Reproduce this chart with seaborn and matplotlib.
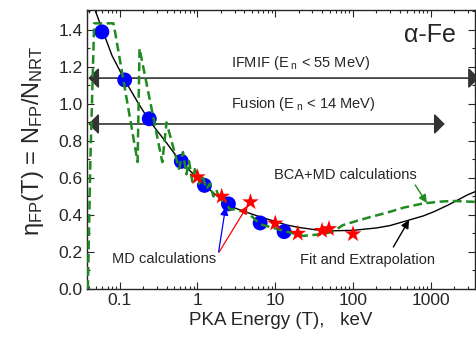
import numpy as np
import pandas as pd
import matplotlib
matplotlib.use("Agg")
import matplotlib.pyplot as plt
from matplotlib.ticker import FixedLocator, FixedFormatter, LogLocator, NullFormatter, MultipleLocator
import seaborn as sns

# ---- data ----
md_blue_x = [0.059, 0.116, 0.24, 0.62, 1.23, 2.5, 6.4, 13]
md_blue_y = [1.39, 1.13, 0.92, 0.69, 0.56, 0.46, 0.357, 0.31]

md_red_x = [1.0, 2.05, 4.8, 10, 19.5, 40, 49, 100]
md_red_y = [0.605, 0.50, 0.47, 0.355, 0.30, 0.315, 0.325, 0.297]

fit_x = [0.049, 0.06, 0.08, 0.116, 0.17, 0.24, 0.4, 0.6, 1.0, 1.2, 2.0, 2.5, 3.1,
         5, 6.4, 10, 14, 20, 33, 60, 100, 200, 300, 500, 800, 1100, 1600, 2200,
         3000, 4200]
fit_y = [1.50, 1.40, 1.26, 1.13, 1.01, 0.91, 0.79, 0.69, 0.60, 0.565, 0.485, 0.46, 0.436,
         0.405, 0.39, 0.365, 0.346, 0.333, 0.32, 0.315, 0.317, 0.33, 0.343, 0.37, 0.395,
         0.418, 0.45, 0.48, 0.51, 0.535]

bca_x = [0.039, 0.042, 0.047, 0.083, 0.088, 0.17, 0.18, 0.353, 0.40, 0.58, 0.65, 0.72,
         0.78, 0.86, 0.94, 1.05, 1.15, 1.3, 1.45, 1.6, 1.75, 2.0, 2.2, 2.6, 3.1, 4.5,
         6.4, 14, 23, 41, 55, 74, 100, 170, 270, 450, 790, 1300, 1900, 4200]
bca_y = [0.0, 0.7, 1.436, 1.436, 1.38, 0.686, 1.30, 0.686, 0.90, 0.65, 0.74, 0.62,
         0.69, 0.58, 0.66, 0.57, 0.62, 0.54, 0.57, 0.50, 0.535, 0.47, 0.49, 0.43, 0.43, 0.41,
         0.35, 0.31, 0.287, 0.297, 0.31, 0.345, 0.362, 0.39, 0.412, 0.44, 0.462, 0.472,
         0.476, 0.47]

xtick_vals = [0.1, 1, 10, 100, 1000]
xtick_labels = ["0.1", "1", "10", "100", "1000"]
ytick_vals = [0.0, 0.2, 0.4, 0.6, 0.8, 1.0, 1.2, 1.4]
ytick_labels = ["0.0", "0.2", "0.4", "0.6", "0.8", "1.0", "1.2", "1.4"]

# ---- style ----
sns.set_style("ticks")
plt.rcParams["font.family"] = ["Liberation Sans", "DejaVu Sans"]
plt.rcParams["mathtext.fontset"] = "custom"
plt.rcParams["mathtext.rm"] = "Liberation Sans"
plt.rcParams["mathtext.it"] = "Liberation Sans"
plt.rcParams["mathtext.bf"] = "Liberation Sans:bold"

fig = plt.figure(figsize=(4.76, 3.37), dpi=100)
ax = fig.add_axes([87 / 476, 48 / 337, (475 - 87) / 476, (289 - 10) / 337])

bca = pd.DataFrame({"T": bca_x, "eta": bca_y})
fit = pd.DataFrame({"T": fit_x, "eta": fit_y})
blue = pd.DataFrame({"T": md_blue_x, "eta": md_blue_y})
red = pd.DataFrame({"T": md_red_x, "eta": md_red_y})

sns.lineplot(data=fit, x="T", y="eta", sort=False, estimator=None, color="black",
             linewidth=1.0, ax=ax, zorder=3)
sns.scatterplot(data=blue, x="T", y="eta", color="#0000ff", s=115, marker="o",
                edgecolor="none", ax=ax, zorder=4)
sns.lineplot(data=bca, x="T", y="eta", sort=False, estimator=None, color="#1f8a1f",
             linewidth=1.8, linestyle=(0, (3.5, 1.8)), ax=ax, zorder=5)
sns.scatterplot(data=red, x="T", y="eta", color="#ff0000", s=160, marker="*",
                edgecolor="none", ax=ax, zorder=6)

ax.set_xscale("log")
ax.set_xlim(0.038, 3700)
ax.set_ylim(0.0, 1.508)

ax.xaxis.set_major_locator(FixedLocator(xtick_vals))
ax.xaxis.set_major_formatter(FixedFormatter(xtick_labels))
ax.xaxis.set_minor_locator(LogLocator(base=10, subs=np.arange(2, 10)))
ax.xaxis.set_minor_formatter(NullFormatter())
ax.yaxis.set_major_locator(FixedLocator(ytick_vals))
ax.yaxis.set_major_formatter(FixedFormatter(ytick_labels))
ax.yaxis.set_minor_locator(MultipleLocator(0.1))

ax.tick_params(which="both", direction="in", top=True, right=True, labelsize=12.5,
               width=0.8, pad=3)
ax.tick_params(which="major", length=5)
ax.tick_params(which="minor", length=2.5)
for s in ax.spines.values():
    s.set_linewidth(1.0)

ax.set_xlabel("PKA Energy (T),   keV", fontsize=13.5, labelpad=3)
ax.set_ylabel(r"$\eta_{\rm FP}$(T) = N$_{\rm FP}$/N$_{\rm NRT}$", fontsize=17)
ax.yaxis.set_label_coords(-0.105, 0.53)

# ---- annotations ----
arr_kw = dict(arrowstyle="<|-|>,head_length=0.45,head_width=0.45", color="#333333",
              lw=1.2, mutation_scale=14, shrinkA=0, shrinkB=0)
ax.annotate("", xy=(4150, 1.14), xytext=(0.0395, 1.14), arrowprops=arr_kw,
            annotation_clip=False)
ax.annotate("", xy=(1510, 0.892), xytext=(0.0395, 0.892), arrowprops=arr_kw)
ax.text(21, 1.22, r"IFMIF (E$_{\ \rm n}$ < 55 MeV)", fontsize=10.5, ha="center", va="center")
ax.text(23, 1.0, r"Fusion (E$_{\ \rm n}$ < 14 MeV)", fontsize=10.5, ha="center", va="center")
ax.text(980, 1.373, "α-Fe", fontsize=18, ha="center", va="center")

ax.text(80, 0.616, "BCA+MD calculations", fontsize=10.5, ha="center", va="center")
ax.annotate("", xy=(890, 0.465), xytext=(630, 0.562),
            arrowprops=dict(arrowstyle="-|>,head_length=0.4,head_width=0.2",
                            color="#1f8a1f", lw=1.0, mutation_scale=12, shrinkA=0, shrinkB=0))
ax.text(152, 0.157, "Fit and Extrapolation", fontsize=10.5, ha="center", va="center")
ax.annotate("", xy=(525, 0.373), xytext=(330, 0.227),
            arrowprops=dict(arrowstyle="-|>,head_length=0.4,head_width=0.2",
                            color="black", lw=1.0, mutation_scale=12, shrinkA=0, shrinkB=0))
ax.text(0.37, 0.162, "MD calculations", fontsize=10.5, ha="center", va="center")
ax.annotate("", xy=(2.3, 0.443), xytext=(1.87, 0.2),
            arrowprops=dict(arrowstyle="-|>,head_length=0.4,head_width=0.2",
                            color="#0000ff", lw=0.9, mutation_scale=12, shrinkA=0, shrinkB=0),
            zorder=7)
ax.annotate("", xy=(4.4, 0.45), xytext=(1.9, 0.2),
            arrowprops=dict(arrowstyle="-|>,head_length=0.4,head_width=0.2",
                            color="#ff0000", lw=0.9, mutation_scale=12, shrinkA=0, shrinkB=0),
            zorder=5)

fig.savefig("out.png", dpi=100)
